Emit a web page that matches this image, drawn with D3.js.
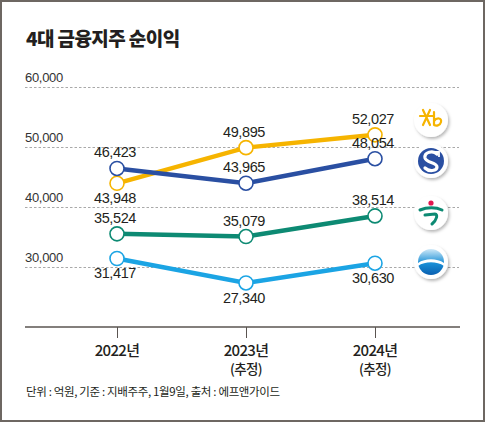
<!DOCTYPE html>
<html>
<head>
<meta charset="utf-8">
<script src="https://cdn.jsdelivr.net/npm/d3@7"></script>
<style>
  body { margin: 0; background: #fff; }
  svg text { font-family: "Liberation Sans", Arial, sans-serif; }
  .kr { font-family: "Noto Sans CJK KR", sans-serif; }
</style>
</head>
<body>
<div id="stage"></div>
<script>
// chart data
var years = ["2022년", "2023년", "2024년"];
var year_notes = ["", "(추정)", "(추정)"];
var y_ticks = [30000, 40000, 50000, 60000];
var kb = [43948, 49895, 52027];
var shinhan = [46423, 43965, 48054];
var hana = [35524, 35079, 38514];
var woori = [31417, 27340, 30630];

var stage_width = 485;
var stage_height = 422;

// series style (label side: -1 above, 1 below)
var series = [
  { name: "kb", values: kb, color: "#f6b400", side: [1, -1, -1], logoY: 120 },
  { name: "shinhan", values: shinhan, color: "#2a4fa2", side: [-1, -1, -1], logoY: 161 },
  { name: "hana", values: hana, color: "#0d8a73", side: [-1, -1, -1], logoY: 213 },
  { name: "woori", values: woori, color: "#1ba4e4", side: [1, 1, 1], logoY: 262 }
];

build_scene();

function build_scene() {
  var fmt = d3.format(",");
  var svg = d3.select("#stage").append("svg")
    .attr("width", stage_width)
    .attr("height", stage_height);

  var defs = svg.append("defs");
  defs.append("filter").attr("id", "shadow")
    .attr("x", "-50%").attr("y", "-50%").attr("width", "200%").attr("height", "200%")
    .append("feDropShadow")
    .attr("dx", 1.5).attr("dy", 2).attr("stdDeviation", 1.6)
    .attr("flood-color", "#000").attr("flood-opacity", 0.28);
  var grad = defs.append("linearGradient").attr("id", "wooriGrad")
    .attr("x1", 0).attr("y1", 0).attr("x2", 0).attr("y2", 1);
  grad.append("stop").attr("offset", "0%").attr("stop-color", "#cfe9f8");
  grad.append("stop").attr("offset", "55%").attr("stop-color", "#1a8fd6");
  grad.append("stop").attr("offset", "100%").attr("stop-color", "#0a5fb0");

  // frame
  svg.append("rect")
    .attr("x", 1).attr("y", 1)
    .attr("width", stage_width - 2).attr("height", stage_height - 2)
    .attr("fill", "#fff").attr("stroke", "#6d6762").attr("stroke-width", 2);

  // title
  svg.append("text").attr("class", "kr")
    .attr("x", 26).attr("y", 46)
    .attr("font-size", 19).attr("font-weight", 900)
    .attr("letter-spacing", -0.6)
    .attr("fill", "#231f20")
    .text("4대 금융지주 순이익");

  var x = d3.scalePoint().domain(years).range([117, 375]);
  var y = d3.scaleLinear().domain([30000, 60000]).range([267, 87]);

  // gridlines + tick labels
  var grid = svg.append("g");
  grid.selectAll("line").data(y_ticks).enter().append("line")
    .attr("x1", 25).attr("x2", 459)
    .attr("y1", function(d) { return y(d) + 0.5; })
    .attr("y2", function(d) { return y(d) + 0.5; })
    .attr("stroke", "#a9a9a9").attr("stroke-width", 1)
    .attr("stroke-dasharray", "2.5,2");
  grid.selectAll("text").data(y_ticks).enter().append("text")
    .attr("x", 25).attr("y", function(d) { return y(d) - 5; })
    .attr("font-size", 13).attr("fill", "#333")
    .attr("letter-spacing", -0.3)
    .text(function(d) { return fmt(d); });

  // x axis
  var axis = svg.append("g").attr("transform", "translate(0,327)")
    .call(d3.axisBottom(x).tickSize(11).tickSizeOuter(0).tickFormat(""));
  axis.select(".domain").remove();
  axis.selectAll(".tick line").attr("stroke", "#5a5450").attr("stroke-width", 1);
  axis.append("line").attr("x1", 25).attr("x2", 460).attr("y1", 0).attr("y2", 0)
    .attr("stroke", "#5a5450").attr("stroke-width", 1.6);

  var xl = svg.append("g");
  xl.selectAll("text.yr").data(years).enter().append("text")
    .attr("class", "kr yr")
    .attr("x", function(d) { return x(d); }).attr("y", 355.5)
    .attr("text-anchor", "middle").attr("font-size", 15).attr("font-weight", 500)
    .attr("letter-spacing", -0.7).attr("fill", "#231f20")
    .text(function(d) { return d; });
  xl.selectAll("text.note").data(years).enter().append("text")
    .attr("class", "kr note")
    .attr("x", function(d) { return x(d); }).attr("y", 373.5)
    .attr("text-anchor", "middle").attr("font-size", 13.5).attr("font-weight", 500)
    .attr("letter-spacing", -0.6).attr("fill", "#231f20")
    .text(function(d, i) { return year_notes[i]; });

  // lines
  var line = d3.line()
    .x(function(d, i) { return x(years[i]); })
    .y(function(d) { return y(d); });

  series.forEach(function(s) {
    var g = svg.append("g");
    g.append("path").datum(s.values)
      .attr("d", line).attr("fill", "none")
      .attr("stroke", s.color).attr("stroke-width", 4.5);
    g.selectAll("circle").data(s.values).enter().append("circle")
      .attr("cx", function(d, i) { return x(years[i]); })
      .attr("cy", function(d) { return y(d); })
      .attr("r", 7).attr("fill", "#fff")
      .attr("stroke", s.color).attr("stroke-width", 1.6);
    g.selectAll("text").data(s.values).enter().append("text")
      .attr("x", function(d, i) { return x(years[i]) - 2; })
      .attr("y", function(d, i) { return y(d) + (s.side[i] < 0 ? -11 : 20); })
      .attr("text-anchor", "middle").attr("font-size", 14.5)
      .attr("letter-spacing", -0.4).attr("fill", "#231f20")
      .text(function(d) { return fmt(d); });
  });

  // logos
  series.forEach(function(s) {
    var lg = svg.append("g").attr("transform", "translate(431," + s.logoY + ")");
    lg.append("circle").attr("r", 17).attr("fill", "#fff").attr("filter", "url(#shadow)");
    draw_logo(lg, s.name);
  });

  // footnote
  svg.append("text").attr("class", "kr")
    .attr("x", 26).attr("y", 396)
    .attr("font-size", 11.5).attr("letter-spacing", -0.35)
    .attr("fill", "#231f20")
    .text("단위 : 억원, 기준 : 지배주주, 1월9일, 출처 : 에프앤가이드");
}

function draw_logo(g, name) {
  if (name == "kb") {
    var c = "#f6b400";
    // asterisk-like star
    g.append("path").attr("d", "M-11,-4 L2,-4 M-8,5 L-1,-10 M-8,-10 L-1,5")
      .attr("stroke", c).attr("stroke-width", 2.2).attr("fill", "none").attr("stroke-linecap", "round");
    g.append("path").attr("d", "M3,-8 L3,5 M3,1 C6,-3 11,-2 10,2 C9,6 5,6 3,5")
      .attr("stroke", c).attr("stroke-width", 2.2).attr("fill", "none").attr("stroke-linecap", "round");
  } else if (name == "shinhan") {
    g.append("circle").attr("r", 13).attr("fill", "#2a4fa2");
    g.append("path").attr("d", "M6,-7 C2,-11 -7,-9 -6,-3 C-5,2 6,1 6,6 C6,10 -2,11 -6,7")
      .attr("stroke", "#fff").attr("stroke-width", 3.2).attr("fill", "none").attr("stroke-linecap", "round");
    g.append("path").attr("d", "M3,-9 L8,-9 L8,-4").attr("stroke", "#fff").attr("stroke-width", 1.8).attr("fill", "none");
  } else if (name == "hana") {
    g.append("circle").attr("cx", 0).attr("cy", -10).attr("r", 2.6).attr("fill", "#e3174f");
    g.append("path").attr("d", "M-11,-3 C-4,-6 5,-6 11,-3")
      .attr("stroke", "#0d8a73").attr("stroke-width", 3).attr("fill", "none").attr("stroke-linecap", "round");
    g.append("path").attr("d", "M-6,2 L4,1 C7,1 6,7 1,11")
      .attr("stroke", "#0d8a73").attr("stroke-width", 3).attr("fill", "none").attr("stroke-linecap", "round");
  } else if (name == "woori") {
    g.append("circle").attr("r", 13).attr("fill", "url(#wooriGrad)");
    g.append("path").attr("d", "M-13,1 C-6,-4 6,-4 13,1 L13,4 C6,-1 -6,-1 -13,4 Z").attr("fill", "#fff");
  }
}
</script>
</body>
</html>
